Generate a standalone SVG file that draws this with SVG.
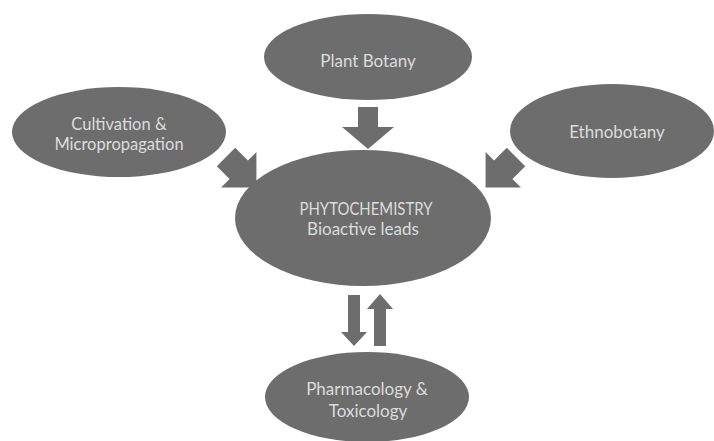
<svg xmlns="http://www.w3.org/2000/svg" width="714" height="441" viewBox="0 0 714 441">
  <style>
    .node { fill: #6d6d6d; }
    .lbl { font-family: Lato, "Liberation Sans", sans-serif; font-size: 17px; fill: #dcdcdc; text-anchor: middle; }
    .sm { font-size: 16.5px; }
    .arr { fill: #6d6d6d; }
  </style>
  <defs>
    <polygon id="diag" points="0,-13 18,-13 18,-25 43,0 18,25 18,13 0,13"/>
  </defs>
  <rect width="714" height="441" fill="#ffffff"/>
  <g id="connectors">
    <polygon class="arr" points="358,107 378,107 378,127 394,127 368,149 342,127 358,127"/>
    <use class="arr" href="#diag" transform="translate(226,157) rotate(45)"/>
    <use class="arr" href="#diag" transform="translate(516,157) rotate(135)"/>
    <polygon class="arr" points="348,295 360,295 360,332 367,332 354,346 341,332 348,332"/>
    <polygon class="arr" points="374,346 386,346 386,309 393,309 380,294 367,309 374,309"/>
  </g>
  <g id="plant-botany">
    <ellipse class="node" cx="368" cy="57" rx="104" ry="43"/>
    <text class="lbl" x="368" y="67">Plant Botany</text>
  </g>
  <g id="cultivation">
    <ellipse class="node" cx="119" cy="132" rx="107" ry="45"/>
    <text class="lbl sm" x="119" y="130">Cultivation &amp;</text>
    <text class="lbl sm" x="119" y="150">Micropropagation</text>
  </g>
  <g id="ethnobotany">
    <ellipse class="node" cx="612" cy="131" rx="102" ry="47"/>
    <text class="lbl" x="617" y="138">Ethnobotany</text>
  </g>
  <g id="phytochemistry">
    <ellipse class="node" cx="363" cy="218" rx="128" ry="68"/>
    <text class="lbl" x="366" y="215" textLength="133" lengthAdjust="spacingAndGlyphs">PHYTOCHEMISTRY</text>
    <text class="lbl" x="363" y="235">Bioactive leads</text>
  </g>
  <g id="pharmacology">
    <ellipse class="node" cx="367" cy="397" rx="102" ry="45"/>
    <text class="lbl" x="367" y="395">Pharmacology &amp;</text>
    <text class="lbl" x="368" y="417">Toxicology</text>
  </g>
</svg>
